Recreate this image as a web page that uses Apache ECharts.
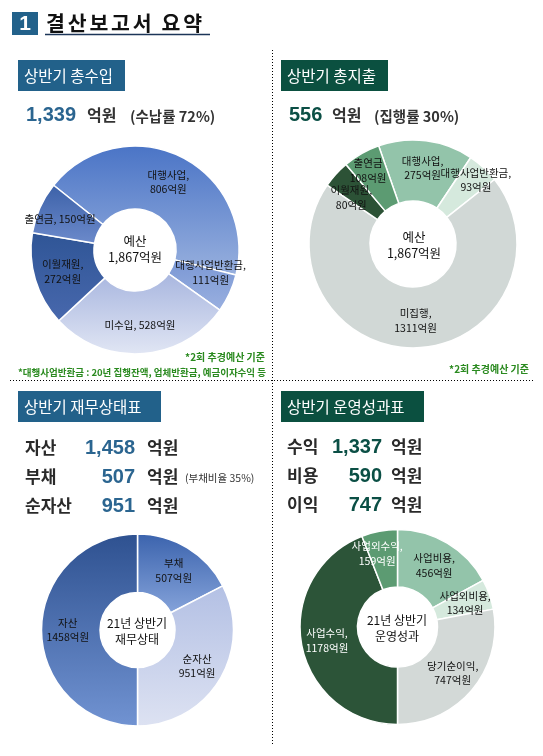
<!DOCTYPE html>
<html><head><meta charset="utf-8">
<script src="https://cdn.jsdelivr.net/npm/echarts@6/dist/echarts.min.js"></script>
<style>html,body{margin:0;padding:0;background:#fff}#c{width:543px;height:756px}</style>
</head><body><div id="c"></div>
<script>
// ---- data ----
const incomeCats = ['대행사업', '대행사업반환금', '미수입', '이월재원', '출연금'];
const incomeVals = [806, 111, 528, 272, 150];
const expendCats = ['대행사업', '대행사업반환금', '미집행', '이월재원', '출연금'];
const expendVals = [275, 93, 1311, 80, 108];
const balanceCats = ['부채', '순자산', '자산'];
const balanceVals = [507, 951, 1458];
const operCats = ['사업비용', '사업외비용', '당기순이익', '사업수익', '사업외수익'];
const operVals = [456, 134, 747, 1178, 159];
const summaryIncome = ['1,339', '억원', '(수납률 72%)'];
const summaryExpend = ['556', '억원', '(집행률 30%)'];
const balanceRows = [['자산', '1,458'], ['부채', '507'], ['순자산', '951']];
const operRows = [['수익', '1,337'], ['비용', '590'], ['이익', '747']];

const FONT = '"Noto Sans CJK KR", "Noto Sans", sans-serif';
const NUMF = '"Liberation Sans", Arial, sans-serif';
const chart = echarts.init(document.getElementById('c'));

function grad(a, b) {
  return new echarts.graphic.LinearGradient(0, 0, 0, 1, [{offset: 0, color: a}, {offset: 1, color: b}]);
}
const incomeColors = [grad('#4a74c6', '#98b0de'), grad('#7a97d4', '#9ab0e0'), grad('#a8b6df', '#e1e6f4'), grad('#2f5596', '#4868ad'), grad('#3c61a8', '#6c8acb')];
const expendColors = ['#93c4aa', '#d5e9dd', '#d1d8d6', '#2c5236', '#5c9b72'];
const balanceColors = [grad('#3b63ad', '#85a3da'), grad('#b3c0e4', '#dde2f2'), grad('#2e5190', '#7193d2')];
const operColors = ['#93c4aa', '#d5e9dd', '#d3d9d7', '#2c5438', '#5c9b72'];

// label nudges (layout only)
const nudge1 = [[0, 0], [7, -9], [0, 0], [0, 0], [-6, 0]];
const nudge2 = [[0, 0], [11, -8], [0, 0], [-5, 5], [-7, -7]];
const nudge3 = [[0, 0], [0, 0], [0, 0]];
const nudge4 = [[0, 0], [0, 0], [0, 0], [0, 0], [-7, -3]];

function pie(cats, vals, colors, center, radius, startAngle, fmt, fontSize, whiteIdx, nudge) {
  return {
    type: 'pie', center, radius, startAngle, clockwise: true,
    avoidLabelOverlap: false, animation: false, silent: true,
    itemStyle: {borderColor: '#fff', borderWidth: 1.5},
    label: {show: true, position: 'inside', fontFamily: FONT, fontSize: fontSize, color: '#111', lineHeight: fontSize + 4, formatter: fmt},
    labelLine: {show: false},
    labelLayout: p => ({hideOverlap: false, dx: nudge[p.dataIndex][0], dy: nudge[p.dataIndex][1]}),
    data: cats.map((n, i) => ({
      name: n, value: vals[i], itemStyle: {color: colors[i]},
      label: (whiteIdx || []).indexOf(i) >= 0 ? {color: '#fff'} : {}
    }))
  };
}

const T = (x, y, text, o) => ({type: 'text', x, y, silent: true,
  style: Object.assign({text, fontFamily: FONT, fontSize: 12, fill: '#333', align: 'left', verticalAlign: 'middle'}, o)});

const g = [];
// title
g.push({type: 'rect', shape: {x: 12, y: 12, width: 26, height: 23}, style: {fill: '#22618a'}});
g.push(T(25, 24, '1', {fontFamily: NUMF, fontSize: 21, fontWeight: 'bold', fill: '#fff', align: 'center'}));
const titleChars = '결산보고서 요약'.split('');
let tx = 46;
titleChars.forEach(ch => {
  if (ch === ' ') { tx += 7; return; }
  g.push(T(tx, 23, ch, {fontSize: 20.5, fontWeight: 'bold', fill: '#111'}));
  tx += 21.7;
});
g.push({type: 'line', shape: {x1: 45, y1: 34.5, x2: 210, y2: 34.5}, style: {stroke: '#1c3558', lineWidth: 1.5}});

// dotted dividers
g.push({type: 'line', shape: {x1: 272.5, y1: 50, x2: 272.5, y2: 745}, style: {stroke: '#000', lineWidth: 1, lineDash: [1, 2]}});
g.push({type: 'line', shape: {x1: 10, y1: 380.5, x2: 534, y2: 380.5}, style: {stroke: '#000', lineWidth: 1, lineDash: [1, 2]}});

// section headers
const headers = [[18, 60, 107, '상반기 총수입', '#22618a'], [281, 60, 107, '상반기 총지출', '#0b5040'],
  [18, 391, 143, '상반기 재무상태표', '#22618a'], [281, 391, 143, '상반기 운영성과표', '#0b5040']];
headers.forEach(h => {
  g.push({type: 'rect', shape: {x: h[0], y: h[1], width: h[2], height: 31}, style: {fill: h[4]}});
  g.push(T(h[0] + 6, h[1] + 16, h[3], {fontSize: 15.5, fill: '#fff'}));
});

// summaries
g.push(T(26, 115, summaryIncome[0], {fontFamily: NUMF, fontSize: 20, fontWeight: 'bold', fill: '#2b6590'}));
g.push(T(87, 115, summaryIncome[1], {fontSize: 16, fontWeight: 'bold', fill: '#333'}));
g.push(T(130, 116, summaryIncome[2], {fontSize: 14.5, fontWeight: 'bold', fill: '#333'}));
g.push(T(289, 115, summaryExpend[0], {fontFamily: NUMF, fontSize: 20, fontWeight: 'bold', fill: '#0b4f45'}));
g.push(T(332, 115, summaryExpend[1], {fontSize: 16, fontWeight: 'bold', fill: '#333'}));
g.push(T(374, 116, summaryExpend[2], {fontSize: 14.5, fontWeight: 'bold', fill: '#333'}));

// footnotes
const FN = {fontSize: 10, fontWeight: 'bold', fill: '#2a8a1f', align: 'right'};
g.push(T(265, 357, '*2회 추경예산 기준', FN));
g.push(T(266, 372, '*대행사업반환금 : 20년 집행잔액, 업체반환금, 예금이자수익 등', Object.assign({}, FN, {fontSize: 9.5})));
g.push(T(529, 369, '*2회 추경예산 기준', FN));

// rows
const rowY = [448, 477, 506];
balanceRows.forEach((r, i) => {
  g.push(T(25, rowY[i], r[0], {fontSize: 17, fontWeight: 'bold', fill: '#2a2a2a'}));
  g.push(T(135, rowY[i], r[1], {fontFamily: NUMF, fontSize: 20, fontWeight: 'bold', fill: '#2b6590', align: 'right'}));
  g.push(T(147, rowY[i], '억원', {fontSize: 17, fontWeight: 'bold', fill: '#2a2a2a'}));
});
g.push(T(185, 478, '(부채비율 35%)', {fontSize: 10.5, fill: '#333'}));
operRows.forEach((r, i) => {
  g.push(T(287, rowY[i] - 1, r[0], {fontSize: 17, fontWeight: 'bold', fill: '#2a2a2a'}));
  g.push(T(382, rowY[i] - 1, r[1], {fontFamily: NUMF, fontSize: 20, fontWeight: 'bold', fill: '#0b4f45', align: 'right'}));
  g.push(T(391, rowY[i] - 1, '억원', {fontSize: 17, fontWeight: 'bold', fill: '#2a2a2a'}));
});

// pie centres
const C = {fontSize: 12.5, fill: '#111', align: 'center', lineHeight: 16};
g.push(T(135, 249, '예산\n1,867억원', C));
g.push(T(414, 245, '예산\n1,867억원', C));
g.push(T(137, 631, '21년 상반기\n재무상태', Object.assign({}, C, {fontSize: 12})));
g.push(T(397, 628, '21년 상반기\n운영성과', Object.assign({}, C, {fontSize: 12})));

const fmt1 = p => (p.name === '출연금' || p.name === '미수입') ? p.name + ', ' + p.value + '억원' : p.name + ',\n' + p.value + '억원';
const fmt2 = p => p.name === '출연금' ? p.name + '\n' + p.value + '억원' : p.name + ',\n' + p.value + '억원';
const fmt3 = p => p.name + '\n' + p.value + '억원';
const fmt4 = p => p.name + ',\n' + p.value + '억원';

chart.setOption({
  animation: false,
  graphic: {elements: g},
  series: [
    pie(incomeCats, incomeVals, incomeColors, [135, 250], [41, 104], 141.5, fmt1, 10.5, [], nudge1),
    pie(expendCats, expendVals, expendColors, [413, 244], [43, 104], 109.3, fmt2, 10.5, [], nudge2),
    pie(balanceCats, balanceVals, balanceColors, [137.5, 630], [37.5, 96], 90, fmt3, 10.5, [], nudge3),
    pie(operCats, operVals, operColors, [397.5, 627], [40, 97.5], 90, fmt4, 10.5, [3, 4], nudge4)
  ]
});
</script></body></html>
